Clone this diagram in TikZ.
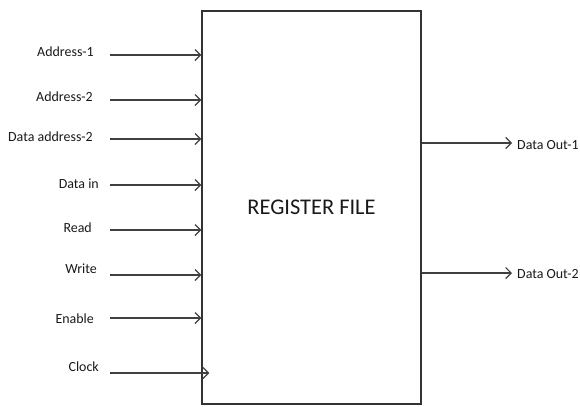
\documentclass[tikz,border=0pt]{standalone}
\usepackage{fontspec}
\setmainfont{Carlito}
\usetikzlibrary{arrows.meta}
\begin{document}
\begin{tikzpicture}[x=1bp,y=-1bp,
  lbl/.style={inner sep=0pt, font=\fontsize{14}{16}\selectfont, text=black!90},
  arr/.style={draw=black!75, line width=1.4bp, -{Straight Barb[length=5.5bp,width=11bp,line width=1.2bp]}},
  boxst/.style={draw=black!80, line width=1.3bp, minimum width=219bp, minimum height=393bp, inner sep=0pt, font=\fontsize{22.5}{26}\selectfont, text=black!90}]
\useasboundingbox (0,0) rectangle (580,406);
\node[boxst] (rf) at (311.5,207.5) {REGISTER FILE};
% input labels
\node[lbl, anchor=east] (l1) at (94,52) {Address-1};
\node[lbl, anchor=east] (l2) at (93,97) {Address-2};
\node[lbl, anchor=east] (l3) at (93,137) {Data address-2};
\node[lbl, anchor=east] (l4) at (99,184) {Data in};
\node[lbl, anchor=east] (l5) at (92,228) {Read};
\node[lbl, anchor=east] (l6) at (97,269) {Write};
\node[lbl, anchor=east] (l7) at (94,319) {Enable};
\node[lbl, anchor=east] (l8) at (99,367) {Clock};
% input arrow starts
\coordinate (s1) at (110,55);
\coordinate (s2) at (110,100);
\coordinate (s3) at (110,139);
\coordinate (s4) at (110,185);
\coordinate (s5) at (110,230);
\coordinate (s6) at (110,275);
\coordinate (s7) at (110,318);
\coordinate (s8) at (110,373);
\draw[arr] (s1) -- (s1 -| rf.west);
\draw[arr] (s2) -- (s2 -| rf.west);
\draw[arr] (s3) -- (s3 -| rf.west);
\draw[arr] (s4) -- (s4 -| rf.west);
\draw[arr] (s5) -- (s5 -| rf.west);
\draw[arr] (s6) -- (s6 -| rf.west);
\draw[arr] (s7) -- (s7 -| rf.west);
\draw[arr] (s8) -- ([xshift=8bp]s8 -| rf.west);
% outputs
\node[lbl, anchor=west] (o1) at (517,145) {Data Out-1};
\node[lbl, anchor=west] (o2) at (517,274) {Data Out-2};
\coordinate (e1) at (512,143);
\coordinate (e2) at (512,273);
\draw[arr] (e1 -| rf.east) -- (e1);
\draw[arr] (e2 -| rf.east) -- (e2);
\end{tikzpicture}
\end{document}
